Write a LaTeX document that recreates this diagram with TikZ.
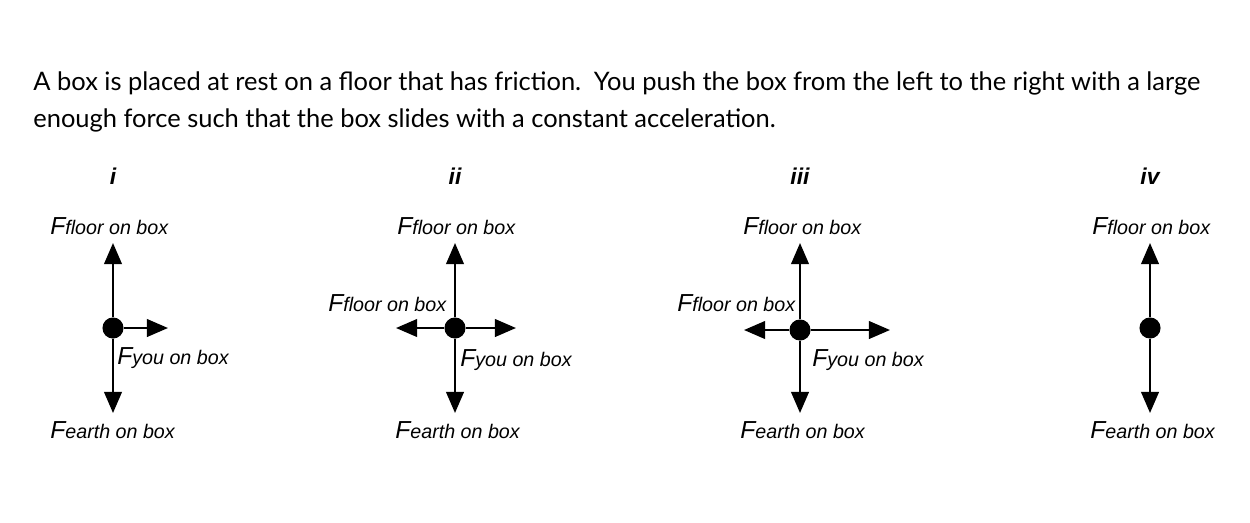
\documentclass[tikz,border=0pt]{standalone}
\usepackage{fontspec}
\setmainfont{Lato}
\newfontfamily\labfont{Liberation Sans}
\usetikzlibrary{arrows.meta}
\newcommand{\flab}[1]{{\labfont\itshape\fontsize{14}{16}\selectfont F\fontsize{11.2}{13}\selectfont #1}}
\begin{document}
\begin{tikzpicture}[x=0.02cm,y=-0.02cm]
	\tikzset{dot/.style = {shape=circle,fill,minimum size=12pt, inner sep=0pt}}
	\tikzset{force/.style = {-{Triangle[width=10pt,length=12pt]}, line width=1.3pt}}
	\tikzset{num/.style = {font=\labfont\bfseries\itshape\fontsize{13}{15}\selectfont}}
	\useasboundingbox (0,0) rectangle (1250,522);
	% question text
	\node[anchor=base west, inner sep=0pt, font=\fontsize{14.5}{17}\selectfont] (q1) at (33,90) {A box is placed at rest on a floor that has friction.\enspace You push the box from the left to the right with a large};
	\node[anchor=base west, inner sep=0pt, font=\fontsize{14.5}{17}\selectfont] (q2) at (33,127) {enough force such that the box slides with a constant acceleration.};
	% numbers
	\node[num] (ni) at (113,176) {i};
	\node[num] (nii) at (455,176) {ii};
	\node[num] (niii) at (800,176) {iii};
	\node[num] (niv) at (1150,176) {iv};
	% Draw i
	\node[dot] (A) at (113,328) {};
	\coordinate (Au) at (113,243);
	\coordinate (Ad) at (113,413);
	\coordinate (Ar) at (168,328);
	\draw[force] (A) -- (Au);
	\draw[force] (A) -- (Ad);
	\draw[force] (A) -- (Ar);
	\node[anchor=base west, inner sep=0pt] (Atop) at (50,234) {\flab{floor on box}};
	\node[anchor=base west, inner sep=0pt] (Ayou) at (117,364) {\flab{you on box}};
	\node[anchor=base west, inner sep=0pt] (Abot) at (50,438) {\flab{earth on box}};
	% Draw ii
	\node[dot] (B) at (455,328) {};
	\coordinate (Bu) at (455,243);
	\coordinate (Bd) at (455,413);
	\coordinate (Bl) at (396,328);
	\coordinate (Br) at (516,328);
	\draw[force] (B) -- (Bu);
	\draw[force] (B) -- (Bd);
	\draw[force] (B) -- (Bl);
	\draw[force] (B) -- (Br);
	\node[anchor=base west, inner sep=0pt] (Btop) at (397,234) {\flab{floor on box}};
	\node[anchor=base west, inner sep=0pt] (Bleft) at (328,311) {\flab{floor on box}};
	\node[anchor=base west, inner sep=0pt] (Byou) at (460,366) {\flab{you on box}};
	\node[anchor=base west, inner sep=0pt] (Bbot) at (395,438) {\flab{earth on box}};
	% Draw iii
	\node[dot] (C) at (800,330) {};
	\coordinate (Cu) at (800,243);
	\coordinate (Cd) at (800,413);
	\coordinate (Cl) at (744,330);
	\coordinate (Cr) at (890,330);
	\draw[force] (C) -- (Cu);
	\draw[force] (C) -- (Cd);
	\draw[force] (C) -- (Cl);
	\draw[force] (C) -- (Cr);
	\node[anchor=base west, inner sep=0pt] (Ctop) at (743,234) {\flab{floor on box}};
	\node[anchor=base west, inner sep=0pt] (Cleft) at (677,311) {\flab{floor on box}};
	\node[anchor=base west, inner sep=0pt] (Cyou) at (812,366) {\flab{you on box}};
	\node[anchor=base west, inner sep=0pt] (Cbot) at (740,438) {\flab{earth on box}};
	% Draw iv
	\node[dot] (D) at (1150,328) {};
	\coordinate (Du) at (1150,243);
	\coordinate (Dd) at (1150,413);
	\draw[force] (D) -- (Du);
	\draw[force] (D) -- (Dd);
	\node[anchor=base west, inner sep=0pt] (Dtop) at (1092,234) {\flab{floor on box}};
	\node[anchor=base west, inner sep=0pt] (Dbot) at (1090,438) {\flab{earth on box}};
\end{tikzpicture}
\end{document}
